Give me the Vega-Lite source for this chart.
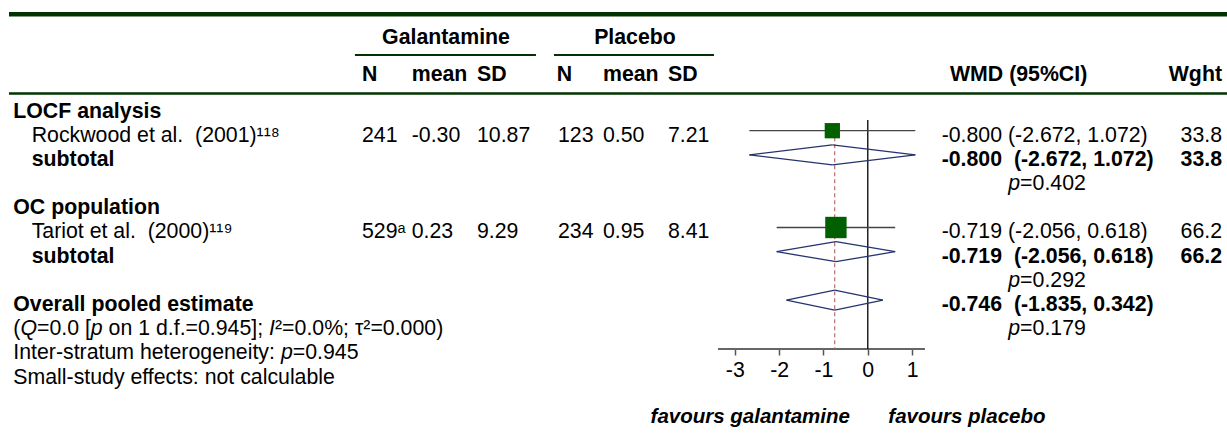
{
  "$schema": "https://vega.github.io/schema/vega-lite/v6.json",
  "width": 1227,
  "height": 349,
  "autosize": {"type": "none"},
  "padding": {"left": 0, "top": 0, "right": 0, "bottom": 95},
  "background": "white",
  "config": {
    "view": {"stroke": null},
    "text": {"font": "Liberation Sans", "fontSize": 21.3, "baseline": "middle", "dy": 5, "color": "black", "align": "left"}
  },
  "data": {
    "values": [
      {"row": 0, "kind": "group", "label": "LOCF analysis"},
      {"row": 1, "kind": "study", "label": "Rockwood et al.\u00a0 (2001)¹¹⁸", "gN": "241", "gMean": "-0.30", "gSD": "10.87", "pN": "123", "pMean": "0.50", "pSD": "7.21", "est": -0.8, "lo": -2.672, "hi": 1.072, "ci": "-0.800 (-2.672, 1.072)", "wght": 33.8},
      {"row": 2, "kind": "subtotal", "label": "subtotal", "est": -0.8, "lo": -2.672, "hi": 1.072, "ci": "-0.800\u00a0 (-2.672, 1.072)", "wght": 33.8},
      {"row": 3, "kind": "pvalue", "p": "0.402"},
      {"row": 4, "kind": "group", "label": "OC population"},
      {"row": 5, "kind": "study", "label": "Tariot et al.\u00a0 (2000)¹¹⁹", "gN": "529ᵃ", "gMean": "0.23", "gSD": "9.29", "pN": "234", "pMean": "0.95", "pSD": "8.41", "est": -0.719, "lo": -2.056, "hi": 0.618, "ci": "-0.719 (-2.056, 0.618)", "wght": 66.2},
      {"row": 6, "kind": "subtotal", "label": "subtotal", "est": -0.719, "lo": -2.056, "hi": 0.618, "ci": "-0.719\u00a0 (-2.056, 0.618)", "wght": 66.2},
      {"row": 7, "kind": "pvalue", "p": "0.292"},
      {"row": 8, "kind": "overall", "label": "Overall pooled estimate", "est": -0.746, "lo": -1.835, "hi": 0.342, "ci": "-0.746\u00a0 (-1.835, 0.342)"},
      {"row": 9, "kind": "pvalue", "p": "0.179"},
      {"row": 9, "kind": "het"},
      {"row": 10, "kind": "inter", "label": "Inter-stratum heterogeneity:", "p": "0.945"},
      {"row": 11, "kind": "note", "label": "Small-study effects: not calculable"}
    ]
  },
  "layer": [
    {"data": {"values": [{}]}, "mark": {"type": "rule", "color": "#666666", "strokeWidth": 2},
     "encoding": {"x": {"datum": -3.38, "type": "quantitative", "scale": {"domain": [-19.58, 8.105], "nice": false, "zero": false},
                        "axis": {"values": [-3, -2, -1, 0, 1], "title": null, "domain": false, "grid": false, "labelExpr": "toString(datum.value)",
                                 "labelFont": "Liberation Sans", "labelFontSize": 21.3, "labelColor": "black", "labelPadding": 4,
                                 "tickColor": "#555555", "tickSize": 6, "tickWidth": 1.5, "labelOverlap": false, "labelFlush": false}},
                  "x2": {"datum": 1.29},
                  "y": {"datum": 10.021, "type": "quantitative", "scale": {"domain": [-4.401, 10.021], "reverse": true, "nice": false, "zero": false}, "axis": null}}},

    {"data": {"values": [{}]}, "mark": {"type": "rule", "color": "#003300", "strokeWidth": 4.5},
     "encoding": {"x": {"datum": -19.377, "type": "quantitative"}, "x2": {"datum": 8.105}, "y": {"datum": -3.81, "type": "quantitative", "axis": null}}},
    {"data": {"values": [{}]}, "mark": {"type": "rule", "color": "#003300", "strokeWidth": 2.3},
     "encoding": {"x": {"datum": -19.377, "type": "quantitative"}, "x2": {"datum": 8.105}, "y": {"datum": -0.537, "type": "quantitative", "axis": null}}},
    {"data": {"values": [{}]}, "mark": {"type": "rule", "color": "#003300", "strokeWidth": 2},
     "encoding": {"x": {"datum": -11.571, "type": "quantitative"}, "x2": {"datum": -7.487}, "y": {"datum": -2.128, "type": "quantitative", "axis": null}}},
    {"data": {"values": [{}]}, "mark": {"type": "rule", "color": "#003300", "strokeWidth": 2},
     "encoding": {"x": {"datum": -7.081, "type": "quantitative"}, "x2": {"datum": -3.47}, "y": {"datum": -2.128, "type": "quantitative", "axis": null}}},

    {"data": {"values": [{}]}, "mark": {"type": "text", "text": "Galantamine", "fontWeight": "bold", "align": "center"},
     "encoding": {"x": {"datum": -9.517, "type": "quantitative"}, "y": {"datum": -3.03, "type": "quantitative", "axis": null}}},
    {"data": {"values": [{}]}, "mark": {"type": "text", "text": "Placebo", "fontWeight": "bold", "align": "center"},
     "encoding": {"x": {"datum": -5.253, "type": "quantitative"}, "y": {"datum": -3.03, "type": "quantitative", "axis": null}}},
    {"data": {"values": [{}]}, "mark": {"type": "text", "text": "N", "fontWeight": "bold"},
     "encoding": {"x": {"datum": -11.412, "type": "quantitative"}, "y": {"datum": -1.49, "type": "quantitative", "axis": null}}},
    {"data": {"values": [{}]}, "mark": {"type": "text", "text": "mean", "fontWeight": "bold"},
     "encoding": {"x": {"datum": -10.291, "type": "quantitative"}, "y": {"datum": -1.49, "type": "quantitative", "axis": null}}},
    {"data": {"values": [{}]}, "mark": {"type": "text", "text": "SD", "fontWeight": "bold"},
     "encoding": {"x": {"datum": -8.818, "type": "quantitative"}, "y": {"datum": -1.49, "type": "quantitative", "axis": null}}},
    {"data": {"values": [{}]}, "mark": {"type": "text", "text": "N", "fontWeight": "bold"},
     "encoding": {"x": {"datum": -7.02, "type": "quantitative"}, "y": {"datum": -1.49, "type": "quantitative", "axis": null}}},
    {"data": {"values": [{}]}, "mark": {"type": "text", "text": "mean", "fontWeight": "bold"},
     "encoding": {"x": {"datum": -5.975, "type": "quantitative"}, "y": {"datum": -1.49, "type": "quantitative", "axis": null}}},
    {"data": {"values": [{}]}, "mark": {"type": "text", "text": "SD", "fontWeight": "bold"},
     "encoding": {"x": {"datum": -4.508, "type": "quantitative"}, "y": {"datum": -1.49, "type": "quantitative", "axis": null}}},
    {"data": {"values": [{}]}, "mark": {"type": "text", "text": "WMD (95%CI)", "fontWeight": "bold"},
     "encoding": {"x": {"datum": 1.855, "type": "quantitative"}, "y": {"datum": -1.49, "type": "quantitative", "axis": null}}},
    {"data": {"values": [{}]}, "mark": {"type": "text", "text": "Wght", "fontWeight": "bold", "align": "right"},
     "encoding": {"x": {"datum": 7.992, "type": "quantitative"}, "y": {"datum": -1.49, "type": "quantitative", "axis": null}}},

    {"transform": [{"filter": "datum.kind == 'group' || datum.kind == 'overall'"}], "mark": {"type": "text", "fontWeight": "bold"},
     "encoding": {"x": {"datum": -19.28, "type": "quantitative"}, "y": {"field": "row", "type": "quantitative", "axis": null}, "text": {"field": "label"}}},
    {"transform": [{"filter": "datum.kind == 'study'"}], "mark": {"type": "text"},
     "encoding": {"x": {"datum": -18.865, "type": "quantitative"}, "y": {"field": "row", "type": "quantitative", "axis": null}, "text": {"field": "label"}}},
    {"transform": [{"filter": "datum.kind == 'subtotal'"}], "mark": {"type": "text", "fontWeight": "bold"},
     "encoding": {"x": {"datum": -18.865, "type": "quantitative"}, "y": {"field": "row", "type": "quantitative", "axis": null}, "text": {"field": "label"}}},
    {"transform": [{"filter": "datum.kind == 'note' || datum.kind == 'inter'"}], "mark": {"type": "text"},
     "encoding": {"x": {"datum": -19.28, "type": "quantitative"}, "y": {"field": "row", "type": "quantitative", "axis": null}, "text": {"field": "label"}}},
    {"transform": [{"filter": "datum.kind == 'inter'"}], "mark": {"type": "text", "text": "p", "fontStyle": "italic", "dx": 267.6},
     "encoding": {"x": {"datum": -19.28, "type": "quantitative"}, "y": {"field": "row", "type": "quantitative", "axis": null}}},
    {"transform": [{"filter": "datum.kind == 'inter'"}], "mark": {"type": "text", "text": "=", "dx": 279.4},
     "encoding": {"x": {"datum": -19.28, "type": "quantitative"}, "y": {"field": "row", "type": "quantitative", "axis": null}}},
    {"transform": [{"filter": "datum.kind == 'inter'"}], "mark": {"type": "text", "dx": 291.9},
     "encoding": {"x": {"datum": -19.28, "type": "quantitative"}, "y": {"field": "row", "type": "quantitative", "axis": null}, "text": {"field": "p"}}},

    {"transform": [{"filter": "datum.kind == 'het'"}], "mark": {"type": "text", "text": "("},
     "encoding": {"x": {"datum": -19.28, "type": "quantitative"}, "y": {"field": "row", "type": "quantitative", "axis": null}}},
    {"transform": [{"filter": "datum.kind == 'het'"}], "mark": {"type": "text", "text": "Q", "fontStyle": "italic", "dx": 7.09},
     "encoding": {"x": {"datum": -19.28, "type": "quantitative"}, "y": {"field": "row", "type": "quantitative", "axis": null}}},
    {"transform": [{"filter": "datum.kind == 'het'"}], "mark": {"type": "text", "text": "=0.0 [", "dx": 23.66},
     "encoding": {"x": {"datum": -19.28, "type": "quantitative"}, "y": {"field": "row", "type": "quantitative", "axis": null}}},
    {"transform": [{"filter": "datum.kind == 'het'"}], "mark": {"type": "text", "text": "p", "fontStyle": "italic", "dx": 77.55},
     "encoding": {"x": {"datum": -19.28, "type": "quantitative"}, "y": {"field": "row", "type": "quantitative", "axis": null}}},
    {"transform": [{"filter": "datum.kind == 'het'"}], "mark": {"type": "text", "text": "on 1 d.f.=0.945];", "dx": 95.32},
     "encoding": {"x": {"datum": -19.28, "type": "quantitative"}, "y": {"field": "row", "type": "quantitative", "axis": null}}},
    {"transform": [{"filter": "datum.kind == 'het'"}], "mark": {"type": "text", "text": "I", "fontStyle": "italic", "dx": 255.79},
     "encoding": {"x": {"datum": -19.28, "type": "quantitative"}, "y": {"field": "row", "type": "quantitative", "axis": null}}},
    {"transform": [{"filter": "datum.kind == 'het'"}], "mark": {"type": "text", "text": "²=0.0%; τ²=0.000)", "dx": 261.71},
     "encoding": {"x": {"datum": -19.28, "type": "quantitative"}, "y": {"field": "row", "type": "quantitative", "axis": null}}},

    {"transform": [{"filter": "datum.kind == 'study'"}], "mark": {"type": "text"},
     "encoding": {"x": {"datum": -11.412, "type": "quantitative"}, "y": {"field": "row", "type": "quantitative", "axis": null}, "text": {"field": "gN"}}},
    {"transform": [{"filter": "datum.kind == 'study'"}], "mark": {"type": "text"},
     "encoding": {"x": {"datum": -10.291, "type": "quantitative"}, "y": {"field": "row", "type": "quantitative", "axis": null}, "text": {"field": "gMean"}}},
    {"transform": [{"filter": "datum.kind == 'study'"}], "mark": {"type": "text"},
     "encoding": {"x": {"datum": -8.818, "type": "quantitative"}, "y": {"field": "row", "type": "quantitative", "axis": null}, "text": {"field": "gSD"}}},
    {"transform": [{"filter": "datum.kind == 'study'"}], "mark": {"type": "text"},
     "encoding": {"x": {"datum": -6.99, "type": "quantitative"}, "y": {"field": "row", "type": "quantitative", "axis": null}, "text": {"field": "pN"}}},
    {"transform": [{"filter": "datum.kind == 'study'"}], "mark": {"type": "text"},
     "encoding": {"x": {"datum": -5.975, "type": "quantitative"}, "y": {"field": "row", "type": "quantitative", "axis": null}, "text": {"field": "pMean"}}},
    {"transform": [{"filter": "datum.kind == 'study'"}], "mark": {"type": "text"},
     "encoding": {"x": {"datum": -4.508, "type": "quantitative"}, "y": {"field": "row", "type": "quantitative", "axis": null}, "text": {"field": "pSD"}}},

    {"data": {"values": [{}]}, "mark": {"type": "rule", "color": "black", "strokeWidth": 1.3},
     "encoding": {"x": {"datum": 0, "type": "quantitative"}, "y": {"datum": 0.558, "type": "quantitative", "axis": null}, "y2": {"datum": 10.021}}},
    {"transform": [{"filter": "datum.kind == 'overall'"}], "mark": {"type": "rule", "color": "#b06060", "strokeWidth": 1.1, "strokeDash": [4, 3]},
     "encoding": {"x": {"field": "est", "type": "quantitative"}, "y": {"datum": 0.69, "type": "quantitative", "axis": null}, "y2": {"datum": 10.021}}},
    {"transform": [{"filter": "datum.kind == 'study'"}], "mark": {"type": "rule", "color": "#444444", "strokeWidth": 1.3},
     "encoding": {"x": {"field": "lo", "type": "quantitative"}, "x2": {"field": "hi"}, "y": {"field": "row", "type": "quantitative", "axis": null}}},
    {"transform": [{"filter": "datum.kind == 'study'"}], "mark": {"type": "square", "filled": true, "color": "#006000", "opacity": 1},
     "encoding": {"x": {"field": "est", "type": "quantitative"}, "y": {"field": "row", "type": "quantitative", "axis": null},
                  "size": {"field": "wght", "type": "quantitative", "scale": {"domain": [0, 100], "range": [0, 690]}, "legend": null}}},
    {"transform": [{"filter": "datum.kind == 'subtotal' || datum.kind == 'overall'"}], "mark": {"type": "rule", "color": "#24346e", "strokeWidth": 1.3, "y2Offset": -10},
     "encoding": {"x": {"field": "lo", "type": "quantitative"}, "x2": {"field": "est"}, "y": {"field": "row", "type": "quantitative", "axis": null}, "y2": {"field": "row"}}},
    {"transform": [{"filter": "datum.kind == 'subtotal' || datum.kind == 'overall'"}], "mark": {"type": "rule", "color": "#24346e", "strokeWidth": 1.3, "yOffset": -10},
     "encoding": {"x": {"field": "est", "type": "quantitative"}, "x2": {"field": "hi"}, "y": {"field": "row", "type": "quantitative", "axis": null}, "y2": {"field": "row"}}},
    {"transform": [{"filter": "datum.kind == 'subtotal' || datum.kind == 'overall'"}], "mark": {"type": "rule", "color": "#24346e", "strokeWidth": 1.3, "y2Offset": 10},
     "encoding": {"x": {"field": "lo", "type": "quantitative"}, "x2": {"field": "est"}, "y": {"field": "row", "type": "quantitative", "axis": null}, "y2": {"field": "row"}}},
    {"transform": [{"filter": "datum.kind == 'subtotal' || datum.kind == 'overall'"}], "mark": {"type": "rule", "color": "#24346e", "strokeWidth": 1.3, "yOffset": 10},
     "encoding": {"x": {"field": "est", "type": "quantitative"}, "x2": {"field": "hi"}, "y": {"field": "row", "type": "quantitative", "axis": null}, "y2": {"field": "row"}}},

    {"transform": [{"filter": "datum.kind == 'study'"}], "mark": {"type": "text"},
     "encoding": {"x": {"datum": 1.667, "type": "quantitative"}, "y": {"field": "row", "type": "quantitative", "axis": null}, "text": {"field": "ci"}}},
    {"transform": [{"filter": "datum.kind == 'subtotal' || datum.kind == 'overall'"}], "mark": {"type": "text", "fontWeight": "bold"},
     "encoding": {"x": {"datum": 1.667, "type": "quantitative"}, "y": {"field": "row", "type": "quantitative", "axis": null}, "text": {"field": "ci"}}},
    {"transform": [{"filter": "datum.kind == 'pvalue'"}], "mark": {"type": "text", "text": "p", "fontStyle": "italic"},
     "encoding": {"x": {"datum": 3.17, "type": "quantitative"}, "y": {"field": "row", "type": "quantitative", "axis": null}}},
    {"transform": [{"filter": "datum.kind == 'pvalue'"}], "mark": {"type": "text", "text": "=", "dx": 11.84},
     "encoding": {"x": {"datum": 3.17, "type": "quantitative"}, "y": {"field": "row", "type": "quantitative", "axis": null}}},
    {"transform": [{"filter": "datum.kind == 'pvalue'"}], "mark": {"type": "text", "dx": 24.28},
     "encoding": {"x": {"datum": 3.17, "type": "quantitative"}, "y": {"field": "row", "type": "quantitative", "axis": null}, "text": {"field": "p"}}},
    {"transform": [{"filter": "datum.kind == 'study'"}], "mark": {"type": "text", "align": "right"},
     "encoding": {"x": {"datum": 7.992, "type": "quantitative"}, "y": {"field": "row", "type": "quantitative", "axis": null}, "text": {"field": "wght", "type": "quantitative", "format": ".1f"}}},
    {"transform": [{"filter": "datum.kind == 'subtotal'"}], "mark": {"type": "text", "align": "right", "fontWeight": "bold"},
     "encoding": {"x": {"datum": 7.992, "type": "quantitative"}, "y": {"field": "row", "type": "quantitative", "axis": null}, "text": {"field": "wght", "type": "quantitative", "format": ".1f"}}},

    {"data": {"values": [{}]}, "mark": {"type": "text", "text": "favours galantamine", "fontWeight": "bold", "fontStyle": "italic", "fontSize": 20.5, "align": "right"},
     "encoding": {"x": {"datum": -0.402, "type": "quantitative"}, "y": {"datum": 12.63, "type": "quantitative", "axis": null}}},
    {"data": {"values": [{}]}, "mark": {"type": "text", "text": "favours placebo", "fontWeight": "bold", "fontStyle": "italic", "fontSize": 20.5, "align": "left"},
     "encoding": {"x": {"datum": 0.463, "type": "quantitative"}, "y": {"datum": 12.63, "type": "quantitative", "axis": null}}}
  ]
}
